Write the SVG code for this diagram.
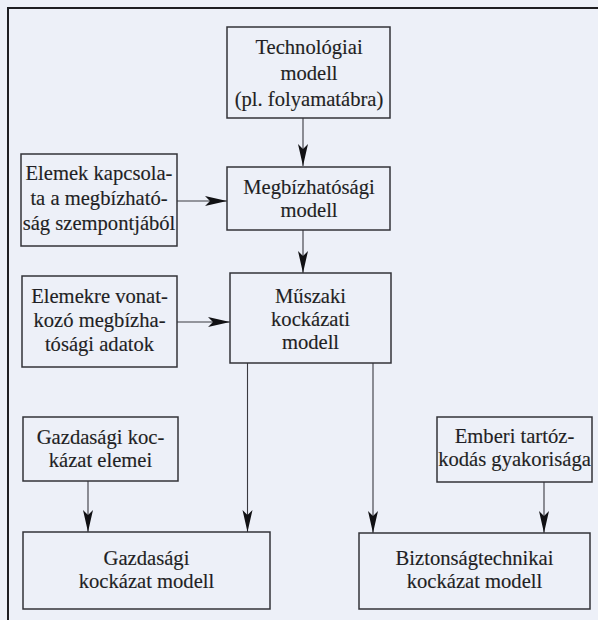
<svg xmlns="http://www.w3.org/2000/svg" width="598" height="620" viewBox="0 0 598 620">
  <style>
    .bg { fill: #edf0f8; }
    .frame { fill: none; stroke: #1e1e22; stroke-width: 2; }
    .box { fill: none; stroke: #333338; stroke-width: 1.5; }
    .edge { fill: none; stroke: #3a3a40; stroke-width: 1.1; marker-end: url(#head); }
    .lbl text { font-family: "Liberation Serif", "Times New Roman", serif; font-size: 20.6px; fill: #1f1f24; stroke: #1f1f24; stroke-width: 0.15; text-anchor: middle; }
  </style>
  <defs>
    <marker id="head" markerUnits="userSpaceOnUse" markerWidth="24" markerHeight="12" viewBox="-22 -6 24 12" refX="0" refY="0" orient="auto">
      <path d="M -22,-5 L 0,0 L -22,5 L -17,0 z" fill="#111114"/>
    </marker>
  </defs>

  <rect class="bg" x="0" y="0" width="598" height="620"/>
  <!-- outer frame: top rule and left rule -->
  <path class="frame" d="M 8,620 L 8,8 L 598,8"/>

  <g id="connectors">
    <path class="edge" d="M 303,118 L 303,166"/>
    <path class="edge" d="M 303,230 L 303,273"/>
    <path class="edge" d="M 177,201 L 227,201"/>
    <path class="edge" d="M 177,322 L 230,322"/>
    <path class="edge" d="M 247.5,363 L 247.5,532"/>
    <path class="edge" d="M 373,363 L 373,533"/>
    <path class="edge" d="M 88,481 L 88,532"/>
    <path class="edge" d="M 544,482 L 544,533"/>
  </g>

  <g class="lbl">
    <g id="technologiai">
      <rect class="box" x="227" y="27" width="163" height="91"/>
      <text x="309" y="54">Technológiai</text>
      <text x="309" y="80">modell</text>
      <text x="309" y="106">(pl. folyamatábra)</text>
    </g>

    <g id="elemek-kapcsolata">
      <rect class="box" x="21" y="154" width="156" height="92"/>
      <text x="99" y="180">Elemek kapcsola-</text>
      <text x="99" y="205">ta a megbízható-</text>
      <text x="99" y="230">ság szempontjából</text>
    </g>

    <g id="megbizhatosagi">
      <rect class="box" x="227" y="167" width="163" height="63"/>
      <text x="309" y="194">Megbízhatósági</text>
      <text x="309" y="217">modell</text>
    </g>

    <g id="elemekre">
      <rect class="box" x="22" y="276" width="155" height="91"/>
      <text x="99.5" y="303">Elemekre vonat-</text>
      <text x="99.5" y="327">kozó megbízha-</text>
      <text x="99.5" y="351">tósági adatok</text>
    </g>

    <g id="muszaki">
      <rect class="box" x="230" y="273" width="161" height="90"/>
      <text x="310.5" y="303">Műszaki</text>
      <text x="310.5" y="326">kockázati</text>
      <text x="310.5" y="349">modell</text>
    </g>

    <g id="gazdasagi-elemei">
      <rect class="box" x="23" y="417" width="155" height="64"/>
      <text x="100.5" y="444">Gazdasági koc-</text>
      <text x="100.5" y="467">kázat elemei</text>
    </g>

    <g id="emberi">
      <rect class="box" x="437" y="417" width="155" height="65"/>
      <text x="514.5" y="443">Emberi tartóz-</text>
      <text x="514.5" y="466">kodás gyakorisága</text>
    </g>

    <g id="gazdasagi-modell">
      <rect class="box" x="23" y="532" width="247" height="77"/>
      <text x="146.5" y="565">Gazdasági</text>
      <text x="146.5" y="588">kockázat modell</text>
    </g>

    <g id="biztonsagtechnikai">
      <rect class="box" x="359" y="533" width="231" height="76"/>
      <text x="474.5" y="565">Biztonságtechnikai</text>
      <text x="474.5" y="588">kockázat modell</text>
    </g>
  </g>
</svg>
